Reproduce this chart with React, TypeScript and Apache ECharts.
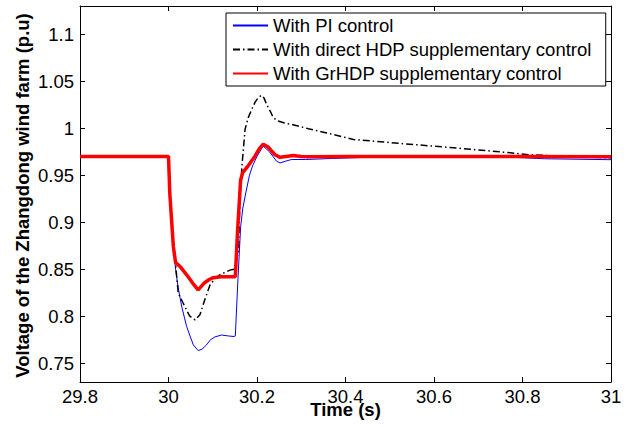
import React, { useEffect, useRef } from "react";
import * as echarts from "echarts";

const xTicks = [29.8, 30, 30.2, 30.4, 30.6, 30.8, 31];
const yTicks = [0.75, 0.8, 0.85, 0.9, 0.95, 1, 1.05, 1.1];

const seriesNames = [
  "With PI control",
  "With direct HDP supplementary control",
  "With GrHDP supplementary control",
];

// With PI control
const piTime = [29.8, 30.0, 30.003, 30.011, 30.016, 30.022, 30.03, 30.041, 30.056, 30.067, 30.076, 30.086, 30.095, 30.105, 30.12, 30.135, 30.148, 30.151, 30.157, 30.163, 30.168, 30.175, 30.183, 30.19, 30.2, 30.214, 30.228, 30.244, 30.252, 30.265, 30.278, 30.31, 30.37, 30.45, 30.5, 30.6, 30.7, 30.78, 30.85, 31.0];
const piVolt = [0.97, 0.97, 0.93, 0.874, 0.85, 0.83, 0.81, 0.789, 0.7695, 0.7634, 0.765, 0.7695, 0.775, 0.778, 0.78, 0.779, 0.7784, 0.779, 0.84, 0.895, 0.915, 0.932, 0.95, 0.96, 0.97, 0.981, 0.975, 0.965, 0.963, 0.965, 0.9667, 0.9667, 0.9678, 0.969, 0.97, 0.97, 0.97, 0.969, 0.9675, 0.9665];

// With direct HDP supplementary control
const hdpTime = [29.8, 30.0, 30.003, 30.011, 30.016, 30.022, 30.033, 30.048, 30.06, 30.071, 30.082, 30.094, 30.105, 30.116, 30.139, 30.148, 30.154, 30.158, 30.162, 30.166, 30.173, 30.18, 30.188, 30.196, 30.203, 30.21, 30.216, 30.222, 30.23, 30.237, 30.248, 30.262, 30.278, 30.316, 30.35, 30.418, 30.523, 30.644, 30.757, 30.817, 30.9, 31.0];
const hdpVolt = [0.97, 0.97, 0.93, 0.874, 0.855, 0.8246, 0.814, 0.8, 0.796, 0.8015, 0.8175, 0.8335, 0.84, 0.844, 0.849, 0.85, 0.86, 0.87, 0.93, 0.96, 0.9987, 1.011, 1.02, 1.028, 1.0325, 1.035, 1.032, 1.025, 1.018, 1.011, 1.0076, 1.0055, 1.004, 0.9995, 0.9958, 0.988, 0.9838, 0.9792, 0.9745, 0.9717, 0.97, 0.9685];

// With GrHDP supplementary control
const grTime = [29.8, 30.0, 30.003, 30.011, 30.016, 30.026, 30.041, 30.055, 30.067, 30.08, 30.092, 30.101, 30.12, 30.151, 30.156, 30.163, 30.168, 30.18, 30.195, 30.205, 30.214, 30.225, 30.24, 30.252, 30.265, 30.282, 30.3, 30.316, 30.4, 30.6, 30.8, 31.0];
const grVolt = [0.97, 0.97, 0.93, 0.874, 0.857, 0.853, 0.844, 0.835, 0.828, 0.835, 0.839, 0.841, 0.842, 0.842, 0.89, 0.945, 0.953, 0.96, 0.97, 0.978, 0.983, 0.98, 0.972, 0.969, 0.97, 0.971, 0.97, 0.9697, 0.97, 0.97, 0.97, 0.9695];

const FONT = "'Liberation Sans', Arial, Helvetica, sans-serif";

const pairs = (t: number[], v: number[]) => t.map((x, i) => [x, v[i]]);

export default function App() {
  const ref = useRef<HTMLDivElement>(null);
  useEffect(() => {
    if (!ref.current) return;
    const chart = echarts.init(ref.current, null, { renderer: "svg" });
    const axisLine = { show: true, onZero: false, lineStyle: { color: "#000", width: 1 } };
    const labelStyle = { color: "#000", fontSize: 18.5, fontFamily: FONT };
    chart.setOption({
      animation: false,
      backgroundColor: "#fff",
      grid: { left: 80, right: 20, top: 6, bottom: 45, containLabel: false },
      xAxis: [
        {
          type: "value", min: 29.8, max: 31, position: "bottom",
          axisLine,
          axisTick: { show: true, inside: true, length: 5, customValues: xTicks, lineStyle: { color: "#000" } },
          axisLabel: { ...labelStyle, margin: 5, customValues: xTicks, formatter: (v: number) => String(parseFloat(v.toFixed(2))) },
          splitLine: { show: false },
        },
        {
          type: "value", min: 29.8, max: 31, position: "top",
          axisLine,
          axisTick: { show: true, inside: true, length: 5, customValues: xTicks, lineStyle: { color: "#000" } },
          axisLabel: { show: false },
          splitLine: { show: false },
        },
      ],
      yAxis: [
        {
          type: "value", min: 0.73, max: 1.13, position: "left",
          axisLine,
          axisTick: { show: true, inside: true, length: 5, customValues: yTicks, lineStyle: { color: "#000" } },
          axisLabel: { ...labelStyle, margin: 6, customValues: yTicks, formatter: (v: number) => String(parseFloat(v.toFixed(2))) },
          splitLine: { show: false },
        },
        {
          type: "value", min: 0.73, max: 1.13, position: "right",
          axisLine,
          axisTick: { show: true, inside: true, length: 5, customValues: yTicks, lineStyle: { color: "#000" } },
          axisLabel: { show: false },
          splitLine: { show: false },
        },
      ],
      legend: {
        orient: "vertical",
        left: 226,
        top: 13,
        itemWidth: 35,
        itemHeight: 14,
        itemGap: 5,
        padding: [3, 14, 3, 6],
        borderColor: "#000",
        borderWidth: 1,
        backgroundColor: "#fff",
        itemStyle: { opacity: 0 },
        textStyle: { color: "#000", fontSize: 18.5, fontFamily: FONT, lineHeight: 18 },
        data: seriesNames,
      },
      series: [
        {
          name: seriesNames[0], type: "line", symbol: "none", showSymbol: false,
          data: pairs(piTime, piVolt),
          lineStyle: { color: "#0000ff", width: 1 }, itemStyle: { color: "#0000ff" }, z: 2,
        },
        {
          name: seriesNames[1], type: "line", symbol: "none", showSymbol: false,
          data: pairs(hdpTime, hdpVolt),
          lineStyle: { color: "#000", width: 1.5, type: [7, 3, 1.5, 3] }, itemStyle: { color: "#000" }, z: 3,
        },
        {
          name: seriesNames[2], type: "line", symbol: "none", showSymbol: false,
          data: pairs(grTime, grVolt),
          lineStyle: { color: "#ff0000", width: 3.5 }, itemStyle: { color: "#ff0000" }, z: 4,
        },
      ],
      graphic: [
        {
          type: "text", x: 345.5, y: 409,
          style: { text: "Time (s)", font: `bold 18.5px ${FONT}`, fill: "#000", textAlign: "center", textVerticalAlign: "middle" },
        },
        {
          type: "text", x: 22.7, y: 195.5, rotation: Math.PI / 2,
          style: { text: "Voltage of the Zhangdong wind farm (p.u)", font: `bold 18.5px ${FONT}`, fill: "#000", textAlign: "center", textVerticalAlign: "middle" },
        },
      ],
    });
    return () => chart.dispose();
  }, []);
  return (
    <div
      ref={ref}
      style={{ position: "fixed", left: 0, top: 0, width: 631, height: 427, background: "#fff" }}
    />
  );
}
